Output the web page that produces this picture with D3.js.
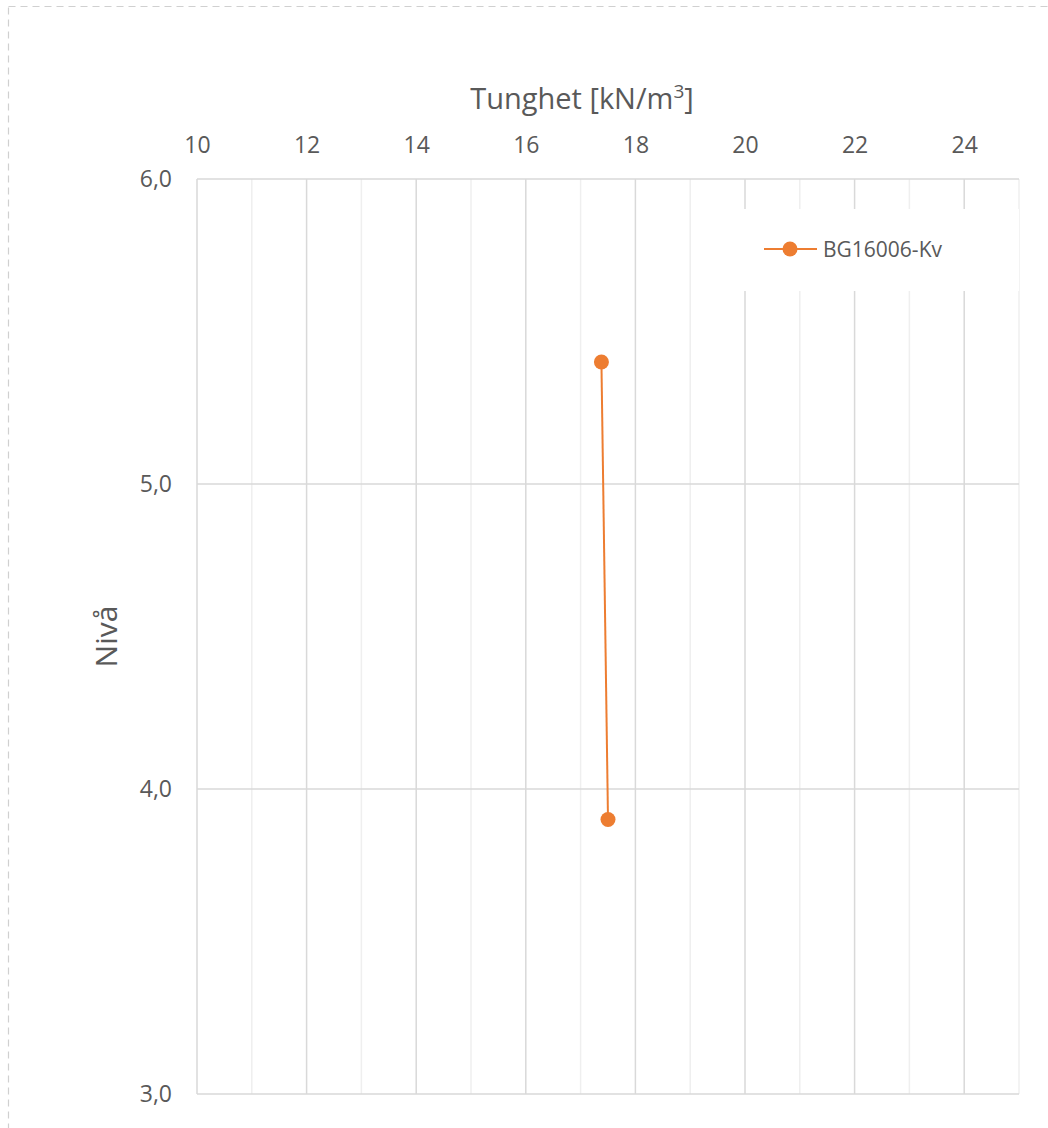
<!DOCTYPE html>
<html><head><meta charset="utf-8">
<script src="https://cdn.jsdelivr.net/npm/d3@7"></script>
<style>body{margin:0;background:#fff;} text{font-family:"Open Sans","Liberation Sans",sans-serif;fill:#595959;}</style>
</head><body>
<svg id="c" width="1048" height="1128"></svg>
<script>
const seriesName = "BG16006-Kv";
const tunghet = [17.38, 17.5];
const niva = [5.4, 3.9];
const xTicks = [10, 12, 14, 16, 18, 20, 22, 24];
const yTicks = [3, 4, 5, 6];

const svg = d3.select("#c");
const L = 197, R = 1019, T = 179, B = 1094;
const x = d3.scaleLinear().domain([10, 25]).range([L, R]);
const y = d3.scaleLinear().domain([3, 6]).range([B, T]);

// outer dashed border
svg.append("rect").attr("x", 8.5).attr("y", 6.5).attr("width", 1060).attr("height", 1140)
  .attr("fill", "none").attr("stroke", "#d0d0d0").attr("stroke-width", 1.2).attr("stroke-dasharray", "7,5");

// minor vertical gridlines
const minor = d3.range(11, 26, 2);
svg.append("g").selectAll("line").data(minor).join("line")
  .attr("x1", d => x(d)).attr("x2", d => x(d)).attr("y1", T).attr("y2", B)
  .attr("stroke", "#efefef").attr("stroke-width", 1.5);
// major vertical gridlines
svg.append("g").selectAll("line").data(xTicks).join("line")
  .attr("x1", d => x(d)).attr("x2", d => x(d)).attr("y1", T).attr("y2", B)
  .attr("stroke", "#d9d9d9").attr("stroke-width", 1.5);
// horizontal gridlines
svg.append("g").selectAll("line").data(yTicks).join("line")
  .attr("x1", L).attr("x2", R).attr("y1", d => y(d)).attr("y2", d => y(d))
  .attr("stroke", "#d9d9d9").attr("stroke-width", 1.5);

// x axis (top)
const xa = svg.append("g").attr("transform", `translate(0,${T})`)
  .call(d3.axisTop(x).tickValues(xTicks).tickSize(0).tickPadding(26));
xa.select(".domain").remove();
xa.selectAll("text").attr("font-size", 23).style("fill", "#595959");

// y axis
const ya = svg.append("g").attr("transform", `translate(${L},0)`)
  .call(d3.axisLeft(y).tickValues(yTicks).tickSize(0).tickPadding(25).tickFormat(d => d3.format(".1f")(d).replace(".", ",")));
ya.select(".domain").remove();
ya.selectAll("text").attr("font-size", 23).style("fill", "#595959");

// axis titles
const t = svg.append("text").attr("x", 582).attr("y", 109).attr("text-anchor", "middle").attr("font-size", 29);
t.append("tspan").text("Tunghet [kN/m");
t.append("tspan").attr("dy", -11).attr("font-size", 19).text("3");
t.append("tspan").attr("dy", 11).text("]");
svg.append("text").attr("transform", `translate(117,${(T + B) / 2}) rotate(-90)`)
  .attr("text-anchor", "middle").attr("font-size", 30).text("Nivå");

// legend box
svg.append("rect").attr("x", 691).attr("y", 209).attr("width", 328).attr("height", 82).attr("fill", "#fff");
svg.append("line").attr("x1", 764).attr("x2", 817).attr("y1", 249).attr("y2", 249)
  .attr("stroke", "#ED7D31").attr("stroke-width", 2);
svg.append("circle").attr("cx", 790).attr("cy", 249).attr("r", 7.5).attr("fill", "#ED7D31");
svg.append("text").attr("x", 823).attr("y", 257).attr("font-size", 21).text(seriesName);

// series
const pts = tunghet.map((v, i) => [v, niva[i]]);
svg.append("path").datum(pts)
  .attr("d", d3.line().x(d => x(d[0])).y(d => y(d[1])))
  .attr("fill", "none").attr("stroke", "#ED7D31").attr("stroke-width", 2);
svg.append("g").selectAll("circle").data(pts).join("circle")
  .attr("cx", d => x(d[0])).attr("cy", d => y(d[1])).attr("r", 7.5).attr("fill", "#ED7D31");
</script>
</body></html>
